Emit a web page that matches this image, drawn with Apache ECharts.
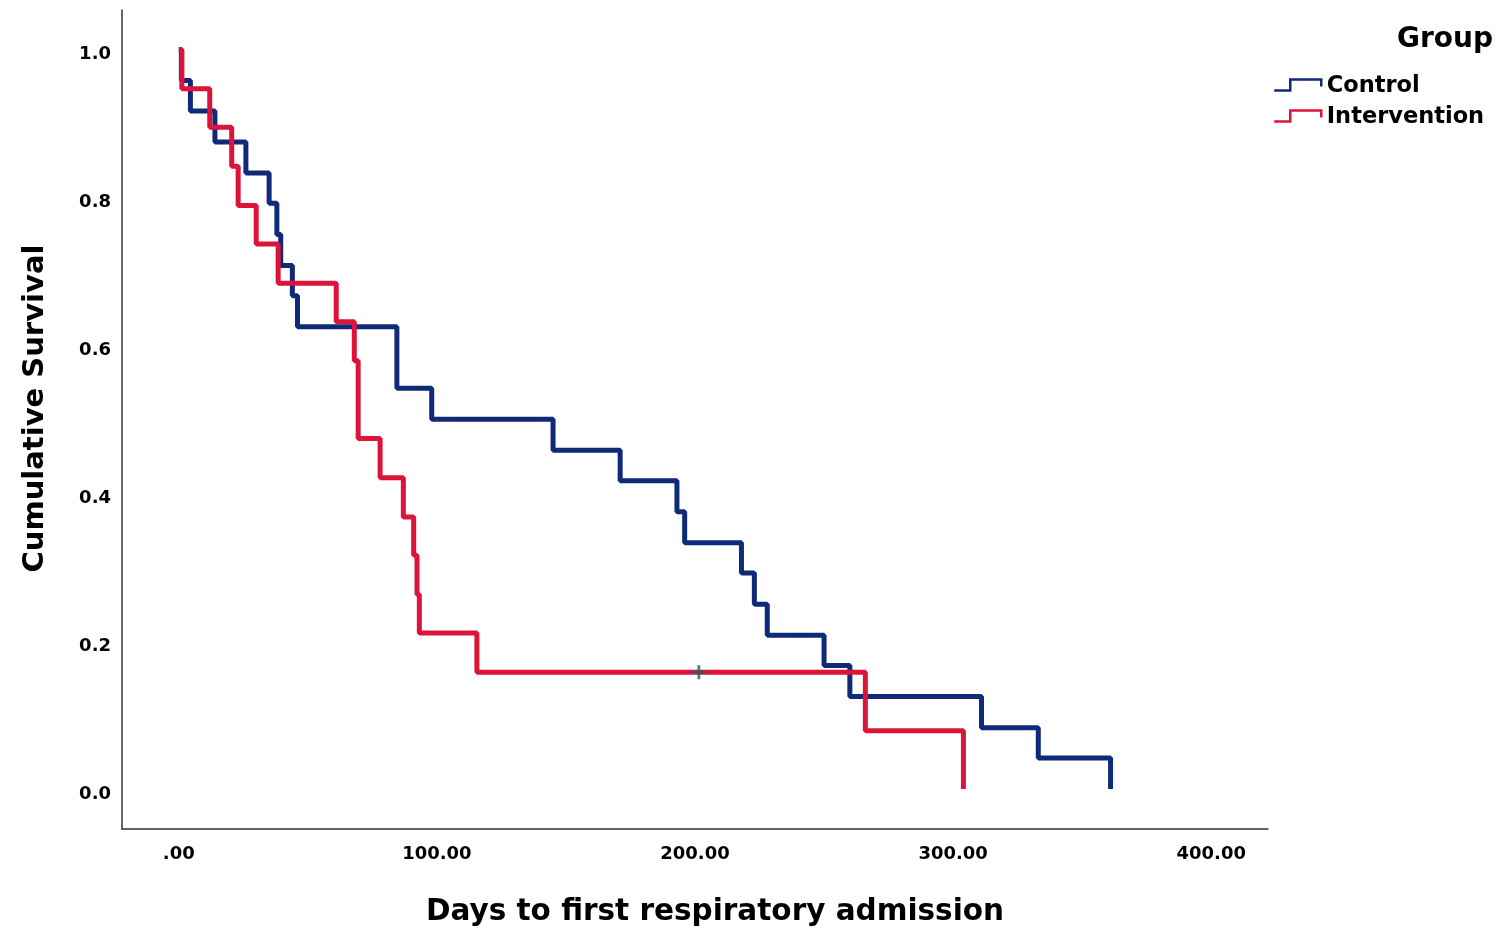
<!DOCTYPE html>
<html>
<head>
<meta charset="utf-8">
<script src="https://cdn.jsdelivr.net/npm/echarts@6/dist/echarts.min.js"></script>
<style>
  html, body { margin: 0; padding: 0; background: #ffffff; }
  #chart { width: 1501px; height: 933px; }
</style>
</head>
<body>
<div id="chart"></div>
<script>
// ---- Data ----
const seriesNames = ['Control', 'Intervention'];
const controlDays = [0, 1, 4.5, 14, 26, 35, 38, 39.5, 44, 46, 84.5, 98, 145, 171, 193, 196, 218, 223, 228, 250, 260, 311, 333, 361];
const controlSurv = [1, 0.958, 0.917, 0.875, 0.833, 0.792, 0.750, 0.708, 0.667, 0.625, 0.542, 0.500, 0.458, 0.417, 0.375, 0.333, 0.292, 0.250, 0.208, 0.167, 0.125, 0.083, 0.042, 0];
const interventionDays = [0, 1.2, 12, 20.5, 23, 30, 38.5, 61, 68, 69.5, 78, 87, 91, 92.3, 93.2, 115.5, 266, 304];
const interventionSurv = [1, 0.947, 0.895, 0.842, 0.789, 0.737, 0.684, 0.632, 0.579, 0.474, 0.421, 0.368, 0.316, 0.263, 0.211, 0.158, 0.079, 0];
const censoredDays = [201.5];
const censoredSurv = [0.158];
const xTicks = [0, 100, 200, 300, 400];
const yTicks = [0, 0.2, 0.4, 0.6, 0.8, 1.0];

const FONT = 'DejaVu Sans';
const BLUE = '#0e2a78';
const RED = '#dc1439';
const pair = (xs, ys) => xs.map((x, i) => [x, ys[i]]);

const chart = echarts.init(document.getElementById('chart'), null, { renderer: 'canvas' });

const legendIcon = 'path://M0,11 L16,11 L16,0 L47,0 L47,7 M47,14 L47,14';

const option = {
  animation: false,
  backgroundColor: '#ffffff',
  title: {
    text: 'Group',
    right: 8,
    top: 26,
    padding: 0,
    textStyle: { fontFamily: FONT, fontWeight: 'bold', fontSize: 28, color: '#000' }
  },
  legend: {
    data: [
      { name: seriesNames[0], icon: legendIcon, itemStyle: { color: 'rgba(0,0,0,0)', borderColor: BLUE, borderWidth: 2.5 } },
      { name: seriesNames[1], icon: legendIcon, itemStyle: { color: 'rgba(0,0,0,0)', borderColor: RED, borderWidth: 2.5 } }
    ],
    orient: 'vertical',
    left: 1273,
    top: 75,
    itemGap: 8,
    itemWidth: 48,
    itemHeight: 14,
    textStyle: { fontFamily: FONT, fontWeight: 'bold', fontSize: 22.5, color: '#000' },
    padding: 0,
    selectedMode: false
  },
  grid: { left: 122, right: 233, top: 10, bottom: 104, containLabel: false },
  xAxis: {
    type: 'value',
    min: -22,
    max: 422,
    name: 'Days to first respiratory admission',
    nameLocation: 'middle',
    nameGap: 68,
    nameTextStyle: { fontFamily: FONT, fontWeight: 'bold', fontSize: 29.5, color: '#000', padding: [0, 0, 0, 40] },
    axisLine: { onZero: false, lineStyle: { color: '#333', width: 1.5 } },
    axisTick: { show: false },
    splitLine: { show: false },
    axisLabel: {
      customValues: xTicks,
      margin: 16,
      fontFamily: FONT, fontWeight: 'bold', fontSize: 18, color: '#000',
      formatter: v => (v === 0 ? '.00' : v.toFixed(2))
    }
  },
  yAxis: {
    type: 'value',
    min: -0.054,
    max: 1.0534,
    name: 'Cumulative Survival',
    nameLocation: 'middle',
    nameGap: 72,
    nameRotate: 90,
    nameTextStyle: { fontFamily: FONT, fontWeight: 'bold', fontSize: 29, color: '#000', padding: [0, 0, 0, 22] },
    axisLine: { onZero: false, lineStyle: { color: '#333', width: 1.5 } },
    axisTick: { show: false },
    splitLine: { show: false },
    axisLabel: {
      customValues: yTicks,
      margin: 11,
      verticalAlign: 'top',
      lineHeight: 10,
      fontFamily: FONT, fontWeight: 'bold', fontSize: 18, color: '#000',
      formatter: v => v.toFixed(1)
    }
  },
  series: [
    {
      name: seriesNames[0],
      type: 'line',
      step: 'end',
      data: pair(controlDays, controlSurv),
      showSymbol: false,
      symbol: 'none',
      color: BLUE,
      lineStyle: { color: BLUE, width: 5 },
      z: 2
    },
    {
      name: seriesNames[1],
      type: 'line',
      step: 'end',
      data: pair(interventionDays, interventionSurv),
      showSymbol: false,
      symbol: 'none',
      color: RED,
      lineStyle: { color: RED, width: 5 },
      z: 3
    },
    {
      name: 'Censored',
      type: 'scatter',
      data: pair(censoredDays, censoredSurv),
      symbol: 'path://M4,0 L6,0 L6,4 L10,4 L10,6 L6,6 L6,10 L4,10 L4,6 L0,6 L0,4 L4,4 Z',
      symbolSize: 14,
      itemStyle: { color: '#1d6262' },
      z: 4
    }
  ]
};

chart.setOption(option);
</script>
</body>
</html>
